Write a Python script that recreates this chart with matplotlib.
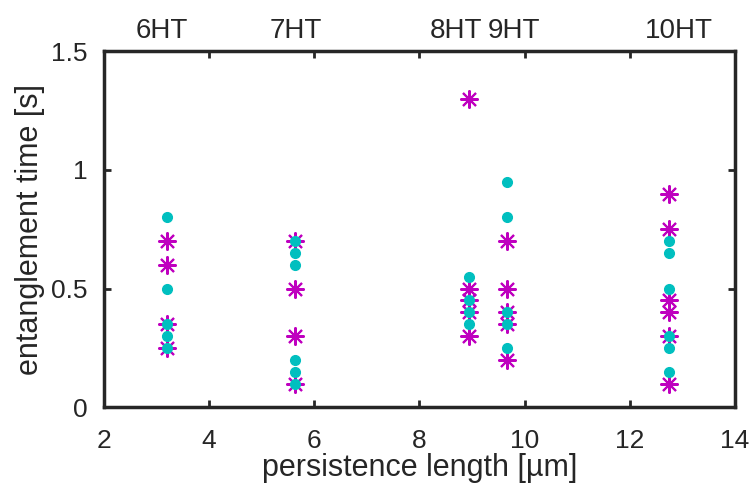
import numpy as np
import matplotlib.pyplot as plt

plt.rcParams['font.family'] = ['Liberation Sans', 'DejaVu Sans']

# persistence length of each sample [um] and its label
lp = [3.2, 5.63, 8.94, 9.66, 12.74]
names = ['6HT', '7HT', '8HT', '9HT', '10HT']
# where each sample name sits along the top (nudged apart where they crowd)
name_x = [3.1, 5.65, 8.7, 9.8, 12.93]

# entanglement times [s], two measurement sets per sample
star_times = [
    [0.7, 0.6, 0.35, 0.25],
    [0.7, 0.5, 0.3, 0.1],
    [1.3, 0.5, 0.45, 0.4, 0.3],
    [0.7, 0.5, 0.4, 0.35, 0.2],
    [0.9, 0.75, 0.45, 0.4, 0.3, 0.1],
]
dot_times = [
    [0.8, 0.5, 0.35, 0.3, 0.25],
    [0.7, 0.65, 0.6, 0.2, 0.15, 0.1],
    [0.55, 0.45, 0.4, 0.35],
    [0.95, 0.8, 0.4, 0.35, 0.25],
    [0.7, 0.65, 0.5, 0.3, 0.25, 0.15],
]

mag = (0.75, 0, 0.75)
cyan = (0, 0.75, 0.75)
dark = '#262626'

fig = plt.figure(figsize=(7.51, 4.86), dpi=100)
ax = fig.add_axes([0.1385, 0.162, 0.840, 0.7324])

for x, ys in zip(lp, star_times):
    ax.plot([x] * len(ys), ys, linestyle='none', marker=(8, 2, 0),
            markersize=13, markeredgewidth=1.5, color=mag)
for x, ys in zip(lp, dot_times):
    ax.plot([x] * len(ys), ys, linestyle='none', marker='o',
            markersize=7, color=cyan, markeredgecolor=cyan)

ax.set_xlim(2, 14)
ax.set_ylim(0, 1.5)
ax.set_xticks([2, 4, 6, 8, 10, 12, 14])
ax.set_yticks([0, 0.5, 1, 1.5])
ax.set_yticklabels(['0', '0.5', '1', '1.5'])
ax.tick_params(direction='in', length=5, width=2, colors=dark,
               labelsize=19, top=True, right=True)
ax.tick_params(axis='x', pad=16)
ax.tick_params(axis='y', pad=12)
for s in ax.spines.values():
    s.set_linewidth(2.5)
    s.set_color(dark)

ax.set_xlabel('persistence length [µm]', fontsize=22, color=dark, labelpad=0)
ax.set_ylabel('entanglement time [s]', fontsize=22, color=dark, labelpad=4)

# sample names above the plot
for x, name in zip(name_x, names):
    ax.annotate(name, xy=(x, 1), xycoords=('data', 'axes fraction'),
                xytext=(0, 9.5), textcoords='offset points',
                ha='center', va='baseline', fontsize=20, color=dark,
                annotation_clip=False)

fig.savefig('out.png', dpi=100)
